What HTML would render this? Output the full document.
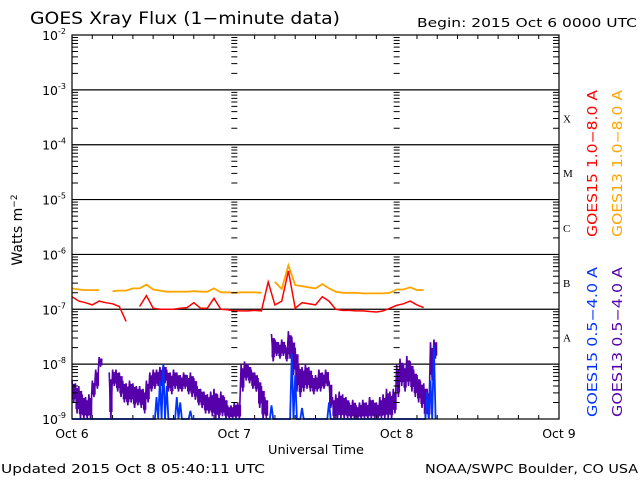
<!DOCTYPE html>
<html><head><meta charset="utf-8"><style>
html,body{margin:0;padding:0;background:#fff}
svg{display:block}
text{font-family:"DejaVu Sans","Liberation Sans",sans-serif;fill:#000}
</style></head><body>
<svg id="chart" width="640" height="480" viewBox="0 0 640 480" xmlns="http://www.w3.org/2000/svg">
<rect x="0" y="0" width="640" height="480" fill="#fff"/>
<text x="30" y="24" font-size="17" textLength="310" lengthAdjust="spacingAndGlyphs">GOES Xray Flux (1−minute data)</text>
<text x="417" y="27" font-size="12.5" textLength="220" lengthAdjust="spacingAndGlyphs">Begin:  2015 Oct 6 0000 UTC</text>
<g id="grid"></g>
<g id="series"></g>
<g id="axes"></g>
<text transform="translate(22,230) rotate(-90)" text-anchor="middle" font-size="14">Watts m<tspan dy="-5" font-size="9">−2</tspan></text>
<text x="268" y="454" font-size="12.5" textLength="96" lengthAdjust="spacingAndGlyphs">Universal Time</text>
<text x="1" y="473" font-size="12.5" textLength="264" lengthAdjust="spacingAndGlyphs">Updated 2015 Oct  8 05:40:11 UTC</text>
<text x="425" y="473" font-size="12.5" textLength="213" lengthAdjust="spacingAndGlyphs">NOAA/SWPC Boulder, CO USA</text>
<text transform="translate(597,237) rotate(-90)" font-size="13" textLength="147" lengthAdjust="spacingAndGlyphs" style="fill:#ff0000">GOES15 1.0−8.0 A</text>
<text transform="translate(622,237) rotate(-90)" font-size="13" textLength="147" lengthAdjust="spacingAndGlyphs" style="fill:#ffa500">GOES13 1.0−8.0 A</text>
<text transform="translate(597,417) rotate(-90)" font-size="13" textLength="150" lengthAdjust="spacingAndGlyphs" style="fill:#0033ff">GOES15 0.5−4.0 A</text>
<text transform="translate(622,417) rotate(-90)" font-size="13" textLength="150" lengthAdjust="spacingAndGlyphs" style="fill:#5500aa">GOES13 0.5−4.0 A</text>
</svg>
<script>
// Data (log10 of flux, W/m^2)
const dayLabels = ["Oct 6","Oct 7","Oct 8","Oct 9"];
const yExponents = [-2,-3,-4,-5,-6,-7,-8,-9];
const flareClasses = ["X","M","C","B","A"];
const flareClassExp = [-4,-5,-6,-7,-8];
// hourly, hours 0..54
const orangeLong = [-6.62,-6.64,-6.65,-6.65,-6.65,null,-6.67,-6.66,-6.66,-6.62,-6.62,-6.55,-6.64,-6.66,-6.68,-6.68,-6.68,-6.68,-6.67,-6.68,-6.68,-6.62,-6.69,-6.69,-6.70,-6.69,-6.69,-6.69,-6.70,null,-6.5,-6.63,-6.2,-6.56,-6.58,-6.6,-6.62,-6.54,-6.62,-6.68,-6.7,-6.7,-6.7,-6.71,-6.71,-6.71,-6.71,-6.7,-6.64,-6.64,-6.6,-6.65,-6.65,null,-6.62];
const redLong = [-6.77,-6.85,-6.88,-6.92,-6.85,-6.88,-6.9,-6.95,-7.22,null,-6.95,-6.75,-6.98,-7.0,-7.0,-7.0,-6.98,-6.97,-6.88,-6.98,-6.98,-6.8,-7.0,-7.01,-7.03,-7.03,-7.03,-7.02,-7.03,-6.5,-6.92,-6.85,-6.3,-6.98,-6.88,-6.9,-6.92,-6.77,-6.85,-7.0,-7.02,-7.02,-7.03,-7.03,-7.04,-7.05,-7.03,-6.98,-6.93,-6.9,-6.85,-6.92,-6.97,null,-6.92];
// half-hourly, hours 0..53.5
const purpleHi = [-8.3,-8.35,-8.4,-8.55,-8.6,-8.55,-8.3,-8.1,-7.87,null,null,-8.15,-8.1,-8.1,-8.15,-8.3,-8.35,-8.3,-8.35,-8.4,-8.4,-8.45,-8.3,-8.15,-8.1,-8.1,-8.05,-8.0,-8.1,-8.15,-8.1,-8.15,-8.2,-8.15,-8.2,-8.15,-8.25,-8.4,-8.45,-8.5,-8.55,-8.5,-8.45,-8.55,-8.5,-8.6,-8.75,-8.75,-8.7,-8.7,-8.0,-7.95,-8.0,-8.1,-8.15,-8.25,-8.4,-8.6,null,-7.45,-7.55,-7.6,-7.55,-7.65,-7.4,-7.5,-7.7,-8.0,-8.05,-8.0,-8.05,-8.2,-8.2,-8.1,-8.15,-8.1,-8.3,-8.6,-8.55,-8.5,-8.55,-8.6,-8.7,-8.65,-8.75,-8.7,-8.65,-8.7,-8.6,-8.65,-8.7,-8.6,-8.55,-8.45,-8.5,-8.45,-8.0,-7.9,-8.0,-7.85,-7.95,-8.1,-8.2,-8.3,-8.35,-8.45,-7.6,-7.55];
const purpleLo = [-8.7,-8.9,-9,-9,-9,-9,-8.6,-8.45,-8.05,null,null,-9,-8.4,-8.5,-8.6,-8.7,-8.75,-8.7,-8.8,-8.75,-8.8,-8.9,-8.7,-8.5,-8.45,-8.4,-8.4,-8.35,-8.5,-8.55,-8.45,-8.5,-8.5,-8.45,-8.55,-8.6,-8.65,-8.75,-8.8,-8.9,-8.9,-8.95,-9,-9,-8.95,-9,-9,-9,-9,-9,-8.5,-8.3,-8.35,-8.45,-8.5,-8.8,-9,-9,null,-7.95,-7.85,-7.9,-7.85,-7.95,-7.9,-8.2,-8.5,-8.6,-8.5,-8.45,-8.5,-8.55,-8.5,-8.5,-8.45,-8.4,-8.8,-9,-9,-9,-9,-9,-9,-9,-9,-9,-9,-9,-9,-9,-9,-9,-9,-9,-9,-8.9,-8.6,-8.4,-8.5,-8.4,-8.5,-8.6,-8.7,-8.8,-9,-9,-8.3,-7.9];
const blueShort = [-9,-9,-9,-9,-9,-9,-9,-9,-9,-9,-9,-9,-9,-9,-9,-9,-9,-9,-9,-9,-9,-9,-9,-9,-9,-8.6,-8.3,-8.0,-8.4,-9,-9,-8.6,-8.7,-9,-9,-8.85,-9,-9,-9,-9,-9,-9,-9,-9,-9,-9,-9,-9,-9,-9,-9,-9,-9,-9,-9,-9,-9,-9,-9,-8.75,-9,-9,-9,-9,-9,-7.8,-8.2,-9,-8.8,-9,-9,-9,-9,-9,-9,-9,-8.7,-9,-9,-9,-9,-9,-9,-9,-9,-9,-9,-9,-9,-9,-9,-9,-9,-9,-9,-9,-9,-9,-9,-9,-9,-9,-9,-9,-9,-8.5,-8.3,-7.65];

const NS="http://www.w3.org/2000/svg";
const X0=72,X1=559,Y0=35,Y1=419;
const xH=h=>X0+h*(X1-X0)/72;
const yE=e=>Y1-(Math.max(e,-9)+9)*(Y1-Y0)/7;
function mk(tag,attrs,parent){const el=document.createElementNS(NS,tag);for(const k in attrs)el.setAttribute(k,attrs[k]);parent.appendChild(el);return el;}
const grid=document.getElementById('grid'),axes=document.getElementById('axes'),ser=document.getElementById('series');

yExponents.slice(1,7).forEach(e=>{
 const l=mk('line',{x1:X0,x2:X1,y1:yE(e),y2:yE(e),stroke:'#000','stroke-width':1.2},grid);
 
 
});
const fr=mk('rect',{x:X0,y:Y0,width:X1-X0,height:Y1-Y0,fill:'none',stroke:'#000','stroke-width':1.2},axes);


let td='';
for(let e=-9;e<-2;e++){for(let m=2;m<=9;m++){const y=yE(e+Math.log10(m));
 td+=`M${X0},${y}h6M${X1},${y}h-6M${xH(24)-3},${y}h6M${xH(48)-3},${y}h6`;}}
for(let h=3;h<72;h+=3){if(h%24===0)continue;td+=`M${xH(h)},${Y1}v-4M${xH(h)},${Y0}v4`;}
const tp=mk('path',{d:td,stroke:'#000','stroke-width':1,fill:'none'},axes);


yExponents.forEach(e=>{
 const t=mk('text',{x:66,y:yE(e)+5,'text-anchor':'end','font-size':12.5},axes);
 
 
 t.innerHTML=`10<tspan dy="-6" font-size="8">${e}</tspan>`;
});
dayLabels.forEach((d,i)=>{
 const t=mk('text',{x:xH(i*24),y:438,'text-anchor':'middle','font-size':12.5},axes);
 
 
 t.textContent=d;
});
flareClasses.forEach((c,i)=>{
 const t=mk('text',{x:563,y:yE(flareClassExp[i]+0.5)+5,'font-size':11,style:'font-family:"Liberation Serif",serif'},axes);
 
 
 t.textContent=c;
});
function linePath(arr,step){let d='',pen=false;arr.forEach((v,i)=>{if(v===null){pen=false;return;}d+=(pen?'L':'M')+xH(i*step).toFixed(1)+','+yE(v).toFixed(1);pen=true;});return d;}
function bandPath(hi,lo,step){let d='',pen=false;const dx=(X1-X0)/72*step;hi.forEach((v,i)=>{if(v===null||lo[i]===null){pen=false;return;}const x=xH(i*step);
 d+=(pen?'L':'M')+x.toFixed(1)+','+yE(v).toFixed(1)+'L'+(x+dx*0.5).toFixed(1)+','+yE(lo[i]).toFixed(1);pen=true;});return d;}
function barsPath(hi,lo,step){let d='';const dx=(X1-X0)/72*step;hi.forEach((v,i)=>{if(v===null||lo[i]===null)return;const x=xH(i*step);
 const a=yE(v),b=yE(lo[i]);d+=`M${x.toFixed(1)},${(a+(b-a)*0.15).toFixed(1)}h${dx.toFixed(1)}V${(b-(b-a)*0.15).toFixed(1)}h${(-dx).toFixed(1)}Z`;});return d;}
const pb=mk('path',{d:barsPath(purpleHi,purpleLo,0.5),fill:'#5500aa',stroke:'none'},ser);


const pp=mk('path',{d:bandPath(purpleHi,purpleLo,0.5),stroke:'#5500aa','stroke-width':1.6,fill:'none'},ser);


const bp=mk('path',{d:bandPath(blueShort,blueShort.map(()=>-9),0.5),stroke:'#0033ff','stroke-width':1.8,fill:'none'},ser);


const op=mk('path',{d:linePath(orangeLong,1),stroke:'#ffa500','stroke-width':1.8,fill:'none'},ser);


const rp=mk('path',{d:linePath(redLong,1),stroke:'#ff0000','stroke-width':1.5,fill:'none'},ser);


</script>
</body></html>
